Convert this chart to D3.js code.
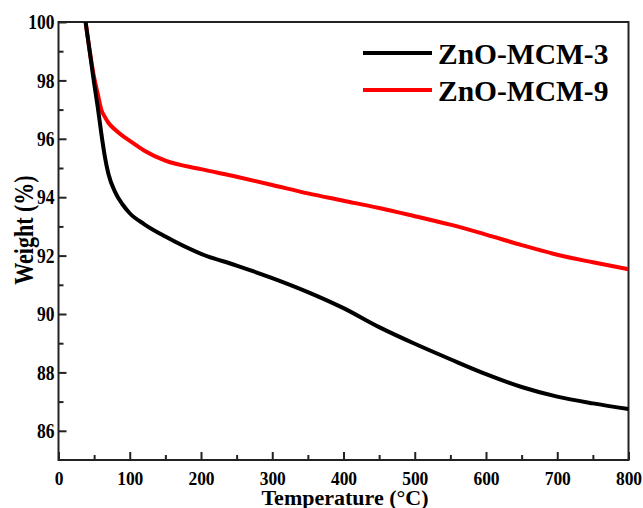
<!DOCTYPE html>
<html>
<head>
<meta charset="utf-8">
<script src="https://cdn.jsdelivr.net/npm/d3@7"></script>
<style>
  html, body { margin: 0; padding: 0; background: #fff; }
  svg { display: block; font-family: "Liberation Serif", "Times New Roman", serif; font-weight: bold; }
</style>
</head>
<body>
<svg id="chart" width="643" height="508"></svg>
<script>
// TGA data
var temps = [38, 50, 55, 60, 65, 70, 80, 90, 100, 120, 150, 200, 250, 300, 350, 400, 450, 500, 550, 600, 650, 700, 750, 800];
var mcm3 = [100, 97.9, 97.1, 96.2, 95.4, 94.8, 94.15, 93.75, 93.45, 93.08, 92.65, 92.06, 91.66, 91.23, 90.75, 90.2, 89.55, 88.98, 88.45, 87.94, 87.5, 87.17, 86.94, 86.75];
var mcm9 = [100, 98.1, 97.55, 97.0, 96.75, 96.55, 96.3, 96.1, 95.93, 95.6, 95.25, 94.96, 94.7, 94.42, 94.13, 93.88, 93.63, 93.35, 93.06, 92.72, 92.36, 92.03, 91.77, 91.53];
var seriesNames = ["ZnO-MCM-3", "ZnO-MCM-9"];
var seriesColors = ["#000000", "#ff0000"];
var xTicks = [0, 100, 200, 300, 400, 500, 600, 700, 800];
var yTicks = [86, 88, 90, 92, 94, 96, 98, 100];

var plotLeft = 58.5, plotRight = 628.5, plotTop = 22, plotBottom = 460;

var svg = d3.select("#chart");

var x = d3.scaleLinear().domain([0, 800]).range([plotLeft, plotRight]);
var y = d3.scaleLinear().domain([85, 100]).range([plotBottom, plotTop]);

// clip for curves
svg.append("defs").append("clipPath").attr("id", "plot-clip")
  .append("rect").attr("x", plotLeft).attr("y", plotTop)
  .attr("width", plotRight - plotLeft).attr("height", plotBottom - plotTop);

// minor ticks
var xMinor = d3.range(50, 800, 100);
var yMinor = d3.range(87, 100, 2);
svg.append("g").attr("transform", "translate(0," + plotBottom + ")")
  .call(d3.axisBottom(x).tickValues(xMinor).tickSize(-5).tickFormat(""))
  .call(function(g) { g.select(".domain").remove(); })
  .selectAll("line").attr("stroke", "#222").attr("stroke-width", 2);
svg.append("g").attr("transform", "translate(" + plotLeft + ",0)")
  .call(d3.axisLeft(y).tickValues(yMinor).tickSize(-5).tickFormat(""))
  .call(function(g) { g.select(".domain").remove(); })
  .selectAll("line").attr("stroke", "#222").attr("stroke-width", 2);

// major x axis
var gx = svg.append("g").attr("transform", "translate(0," + plotBottom + ")")
  .call(d3.axisBottom(x).tickValues(xTicks).tickSize(-8).tickFormat(d3.format("d")));
gx.select(".domain").remove();
gx.selectAll("line").attr("stroke", "#222").attr("stroke-width", 2);
gx.selectAll("text")
  .attr("y", 0).attr("dy", 0)
  .attr("transform", "translate(0,24.7) scale(1,1.12)")
  .attr("font-size", 17.5).attr("font-family", "Liberation Serif").attr("font-weight", "bold")
  .attr("fill", "#000");

// major y axis
var gy = svg.append("g").attr("transform", "translate(" + plotLeft + ",0)")
  .call(d3.axisLeft(y).tickValues(yTicks).tickSize(-8).tickPadding(4).tickFormat(d3.format("d")));
gy.select(".domain").remove();
gy.selectAll("line").attr("stroke", "#222").attr("stroke-width", 2);
gy.selectAll("text")
  .attr("dy", 0)
  .attr("transform", "translate(0,6.7) scale(1,1.15)")
  .attr("font-size", 17.5).attr("font-family", "Liberation Serif").attr("font-weight", "bold")
  .attr("fill", "#000");

// frame
svg.append("rect")
  .attr("x", plotLeft).attr("y", plotTop)
  .attr("width", plotRight - plotLeft).attr("height", plotBottom - plotTop)
  .attr("fill", "none").attr("stroke", "#222").attr("stroke-width", 2);

// curves
var line = d3.line()
  .x(function(d) { return x(d[0]); })
  .y(function(d) { return y(d[1]); })
  .curve(d3.curveMonotoneX);

var plot = svg.append("g").attr("clip-path", "url(#plot-clip)");
[mcm9, mcm3].forEach(function(vals) {
  var idx = vals === mcm3 ? 0 : 1;
  plot.append("path")
    .datum(temps.map(function(t, i) { return [t, vals[i]]; }))
    .attr("d", line)
    .attr("fill", "none")
    .attr("stroke", seriesColors[idx])
    .attr("stroke-width", 4)
    .attr("stroke-linejoin", "round");
});

// legend
var legend = svg.append("g");
seriesNames.forEach(function(name, i) {
  var ly = 53 + i * 37;
  legend.append("line")
    .attr("x1", 363).attr("x2", 432).attr("y1", ly).attr("y2", ly)
    .attr("stroke", seriesColors[i]).attr("stroke-width", 4);
  legend.append("text")
    .attr("x", 438).attr("y", ly + 10.5)
    .attr("font-size", 29.5)
    .text(name);
});

// axis titles
svg.append("text")
  .attr("transform", "translate(33,230) rotate(-90) scale(1,1.25)")
  .attr("text-anchor", "middle")
  .attr("font-size", 22)
  .text("Weight (%)");

svg.append("text")
  .attr("x", 345).attr("y", 505)
  .attr("text-anchor", "middle")
  .attr("font-size", 22)
  .text("Temperature (°C)");
</script>
</body>
</html>
